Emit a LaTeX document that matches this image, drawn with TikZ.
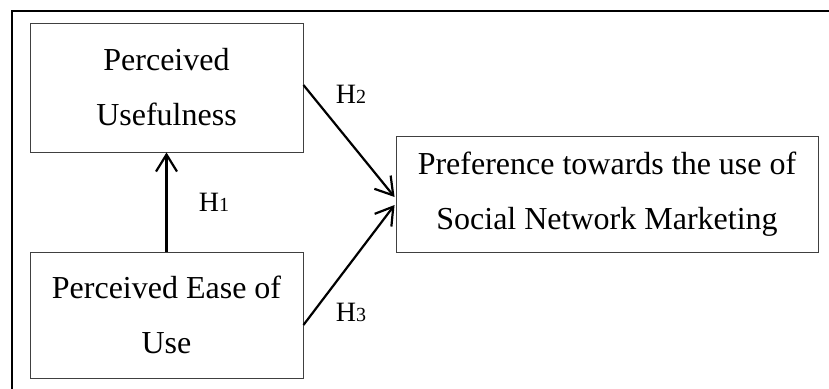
\documentclass[tikz,border=0pt]{standalone}
\usepackage{fontspec}
\setmainfont{Liberation Serif}
\usetikzlibrary{arrows.meta,calc}
\begin{document}
\begin{tikzpicture}[x=1pt,y=-1pt,
  box/.style={draw=black!75,line width=0.9pt,rectangle,inner sep=0pt,align=center,
    font=\fontsize{32}{55}\selectfont},
  hyp/.style={-{Straight Barb[length=17pt,width=21pt,line width=2.2pt]},line width=2.2pt},
  hlab/.style={inner sep=0pt,font=\fontsize{28}{28}\selectfont}]
\useasboundingbox (0,0) rectangle (829,388);
\fill[white] (0,0) rectangle (829,388);
\coordinate (bl) at (12,390);
\coordinate (tl) at (12,11);
\coordinate (tr) at (831,11);
\draw[line width=2pt] (bl) -- (tl) -- (tr);
\node[box,minimum width=273pt,minimum height=129pt] (PU) at (166.5,87.5) {Perceived\\Usefulness};
\node[box,minimum width=273pt,minimum height=126pt] (PEU) at (166.5,315) {Perceived Ease of\\Use};
\node[box,minimum width=422pt,minimum height=116pt] (Pref) at (607,194) {Preference towards the use of\\Social Network Marketing};
\coordinate (a2) at ($(PU.east)+(0,-2.5)$);
\coordinate (a3) at ($(PEU.east)+(0,10)$);
\coordinate (t2) at ($(Pref.west)+(-1,3)$);
\coordinate (t3) at ($(Pref.west)+(-1,11)$);
\draw[hyp] (PEU.north) -- (PU.south);
\draw[hyp] (a2) -- (t2);
\draw[hyp] (a3) -- (t3);
\node[hlab] (h1) at (214,202) {H{\fontsize{20}{20}\selectfont 1}};
\node[hlab] (h2) at (351,94) {H{\fontsize{20}{20}\selectfont 2}};
\node[hlab] (h3) at (351,312) {H{\fontsize{20}{20}\selectfont 3}};
\end{tikzpicture}
\end{document}
